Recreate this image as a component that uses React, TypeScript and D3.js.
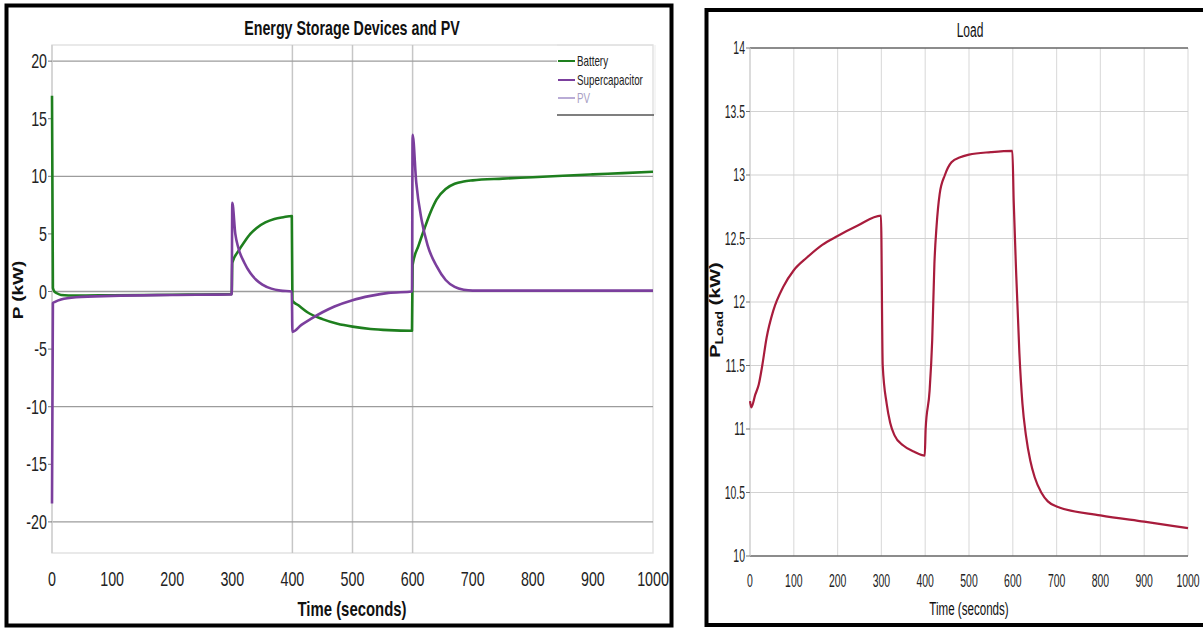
import React from "react";
import * as d3 from "d3";

// ---------- data ----------
const xTicks = [0, 100, 200, 300, 400, 500, 600, 700, 800, 900, 1000];
const leftYTicks = [20, 15, 10, 5, 0, -5, -10, -15, -20];
const leftGridY = [20, 10, 0, -10, -20];
const leftGridX = [400, 500, 600];
const rightYTicks = [14, 13.5, 13, 12.5, 12, 11.5, 11, 10.5, 10];
const rightYTickLabels = ["14", "13.5", "13", "12.5", "12", "11.5", "11", "10.5", "10"];

const seriesNames = ["Battery", "Supercapacitor", "PV"];

const batteryT = [0, 1.5, 4, 8, 15, 40, 100, 200, 299, 300, 310, 320, 330, 340, 355, 370, 385, 399, 400, 410, 425, 450, 475, 500, 530, 560, 599, 600, 610, 620, 630, 640, 655, 670, 685, 700, 750, 800, 850, 900, 950, 1000];
const batteryP = [17, 0.3, 0, -0.15, -0.3, -0.35, -0.32, -0.28, -0.22, 2.5, 3.5, 4.3, 5.0, 5.5, 6.0, 6.3, 6.45, 6.55, -0.8, -1.2, -1.8, -2.4, -2.8, -3.05, -3.25, -3.35, -3.4, 2.3, 4.0, 5.5, 6.9, 8.0, 8.9, 9.35, 9.55, 9.65, 9.8, 9.92, 10.05, 10.17, 10.28, 10.4];

const supercapT = [0, 1.5, 5, 15, 40, 100, 200, 299, 300, 305, 310, 320, 330, 340, 350, 365, 380, 399, 400, 415, 430, 450, 470, 500, 530, 560, 599, 600, 606, 615, 625, 640, 655, 670, 685, 700, 1000];
const supercapP = [-18.4, -1.0, -0.9, -0.7, -0.5, -0.38, -0.3, -0.25, 7.7, 5.0, 3.8, 2.5, 1.6, 1.0, 0.6, 0.25, 0.08, 0.0, -3.5, -2.9, -2.4, -1.8, -1.3, -0.75, -0.38, -0.12, 0, 13.6, 9.5, 6.2, 4.0, 2.2, 1.0, 0.4, 0.15, 0.08, 0.08];

const pvT: number[] = [];
const pvP: number[] = [];

const loadT = [0, 3, 12, 20, 28, 38, 53, 76, 100, 130, 165, 200, 245, 299, 303, 312, 320, 330, 350, 375, 399, 401, 410, 416, 421, 426, 433, 445, 460, 480, 500, 550, 599, 602, 608, 615, 622, 630, 640, 650, 665, 680, 700, 800, 900, 1000];
const loadP = [11.22, 11.17, 11.27, 11.35, 11.5, 11.72, 11.93, 12.12, 12.25, 12.35, 12.45, 12.52, 12.6, 12.68, 11.5, 11.2, 11.05, 10.95, 10.87, 10.82, 10.79, 11.0, 11.3, 11.7, 12.3, 12.6, 12.85, 13.0, 13.1, 13.14, 13.16, 13.18, 13.19, 12.8, 12.2, 11.6, 11.2, 10.95, 10.75, 10.62, 10.5, 10.43, 10.39, 10.32, 10.27, 10.22];

// ---------- styles ----------
const FONT = "'Liberation Sans', Arial, sans-serif";
const GREEN = "#1e7f1e";
const PURPLE = "#7b3f9d";
const PVCOL = "#b9acd6";
const LOADCOL = "#a81c3c";

type TProps = {
  x: number; y: number; sx?: number; size?: number; weight?: string | number;
  anchor?: string; fill?: string; rotate?: boolean; children?: React.ReactNode;
};
function T({ x, y, sx = 0.78, size = 18, weight = "normal", anchor = "middle", fill = "#222", rotate = false, children }: TProps) {
  const tr = rotate
    ? `translate(${x},${y}) rotate(-90) scale(1,${sx})`
    : `translate(${x},${y}) scale(${sx},1)`;
  return (
    <g transform={tr}>
      <text x={0} y={0} fontFamily={FONT} fontSize={size} fontWeight={weight} textAnchor={anchor} fill={fill}>
        {children}
      </text>
    </g>
  );
}

function zip(t: number[], v: number[]): [number, number][] {
  return t.map((d, i) => [d, v[i]]);
}

export default function App() {
  const xL = d3.scaleLinear().domain([0, 1000]).range([52, 653]);
  const yL = d3.scaleLinear().domain([-22.7, 21.4]).range([553, 45]);
  const xR = d3.scaleLinear().domain([0, 1000]).range([750, 1188]);
  const yR = d3.scaleLinear().domain([10, 14]).range([556, 48]);

  const lineL = d3.line<[number, number]>().x((d) => xL(d[0])).y((d) => yL(d[1])).curve(d3.curveMonotoneX);
  const lineR = d3.line<[number, number]>().x((d) => xR(d[0])).y((d) => yR(d[1])).curve(d3.curveMonotoneX);

  const legendY = [61, 80, 98];
  const legendCols = [GREEN, PURPLE, PVCOL];

  return (
    <svg width={1203} height={628} style={{ position: "absolute", left: 0, top: 0, background: "#fff" }}>
      <rect x={0} y={0} width={1203} height={628} fill="#fff" />

      {/* ================= LEFT PANEL ================= */}
      <rect x={xL(0)} y={yL(21.4)} width={xL(1000) - xL(0)} height={yL(-22.7) - yL(21.4)} fill="none" stroke="#e2e2e2" strokeWidth={1.5} />
      {leftGridX.map((t) => (
        <line key={"lgx" + t} x1={xL(t)} x2={xL(t)} y1={yL(21.4)} y2={yL(-22.7)} stroke="#c6c6c6" strokeWidth={1.5} />
      ))}
      {leftGridY.map((v) => (
        <line key={"lgy" + v} x1={xL(0)} x2={v === 20 ? 557 : xL(1000)} y1={yL(v)} y2={yL(v)} stroke="#9c9c9c" strokeWidth={1.3} />
      ))}
      <line x1={xL(0)} x2={xL(0)} y1={yL(21.4)} y2={yL(-22.7)} stroke="#cfcfcf" strokeWidth={1.5} />
      {leftYTicks.map((v) => (
        <g key={"lyt" + v}>
          <line x1={xL(0) - 4} x2={xL(0)} y1={yL(v)} y2={yL(v)} stroke="#777" strokeWidth={1} />
          <T x={xL(0) - 5} y={yL(v) + 7} anchor="end" size={21} sx={0.68}>{String(v)}</T>
        </g>
      ))}
      {xTicks.map((t) => (
        <T key={"lxt" + t} x={xL(t)} y={586} size={21} sx={0.68}>{String(t)}</T>
      ))}

      <path d={lineL(zip(pvT, pvP)) || ""} fill="none" stroke={PVCOL} strokeWidth={2} />
      <path d={lineL(zip(batteryT, batteryP)) || ""} fill="none" stroke={GREEN} strokeWidth={2.6} strokeLinejoin="round" />
      <path d={lineL(zip(supercapT, supercapP)) || ""} fill="none" stroke={PURPLE} strokeWidth={2.6} strokeLinejoin="round" />

      {/* legend */}
      <line x1={557} x2={653} y1={45} y2={45} stroke="#e0e0e0" strokeWidth={1} />
      <line x1={655} x2={655} y1={45} y2={115} stroke="#ececec" strokeWidth={1} />
      {seriesNames.map((n, i) => (
        <g key={"leg" + n}>
          <line x1={558} x2={575} y1={legendY[i]} y2={legendY[i]} stroke={legendCols[i]} strokeWidth={2} />
          <T x={577} y={legendY[i] + 5} anchor="start" size={14} sx={0.7} fill={i === 2 ? "#a9a0c4" : "#222"}>{n}</T>
        </g>
      ))}
      <line x1={557} x2={654} y1={115} y2={115} stroke="#555" strokeWidth={1.3} />

      <T x={352} y={35} size={21} weight="bold" sx={0.68} fill="#111">Energy Storage Devices and PV</T>
      <T x={352} y={616} size={21} weight="bold" sx={0.71} fill="#111">Time (seconds)</T>
      <T x={23} y={290} size={19} weight="bold" sx={0.78} rotate fill="#111">P (kW)</T>

      <rect x={6.5} y={5.5} width={665} height={620} fill="none" stroke="#000" strokeWidth={4} />

      {/* ================= RIGHT PANEL ================= */}
      {xTicks.map((t) => (
        <line key={"rgx" + t} x1={xR(t)} x2={xR(t)} y1={yR(14)} y2={yR(10)} stroke="#dedede" strokeWidth={1.2} />
      ))}
      {rightYTicks.map((v) => (
        <line key={"rgy" + v} x1={xR(0)} x2={xR(1000)} y1={yR(v)} y2={yR(v)}
          stroke={v === 14 || v === 10 ? "#666" : "#d2d2d2"} strokeWidth={v === 14 || v === 10 ? 1.3 : 1.2} />
      ))}
      <line x1={xR(0)} x2={xR(0)} y1={yR(14)} y2={yR(10)} stroke="#d0d0d0" strokeWidth={1.2} />
      {rightYTicks.map((v, i) => (
        <g key={"ryt" + v}>
          <line x1={xR(0) - 4} x2={xR(0)} y1={yR(v)} y2={yR(v)} stroke="#777" strokeWidth={1} />
          <T x={xR(0) - 5} y={yR(v) + 6} anchor="end" size={19} sx={0.55}>{rightYTickLabels[i]}</T>
        </g>
      ))}
      {xTicks.map((t) => (
        <T key={"rxt" + t} x={xR(t)} y={587} size={19} sx={0.55}>{String(t)}</T>
      ))}

      <path d={lineR(zip(loadT, loadP)) || ""} fill="none" stroke={LOADCOL} strokeWidth={2.2} strokeLinejoin="round" />

      <T x={970} y={37} size={20} sx={0.6} fill="#111">Load</T>
      <T x={969} y={615} size={19} sx={0.61} fill="#111">Time (seconds)</T>
      <g transform="translate(720,310) rotate(-90) scale(1,0.75)">
        <text x={0} y={0} fontFamily={FONT} textAnchor="middle" fill="#111">
          <tspan fontSize={20} fontWeight="bold">P</tspan>
          <tspan fontSize={14} fontWeight="bold" dy={4}>Load</tspan>
          <tspan fontSize={20} fontWeight="bold" dy={-4}> (kW)</tspan>
        </text>
      </g>

      <rect x={706.5} y={10} width={500} height={615} fill="none" stroke="#000" strokeWidth={4} />
    </svg>
  );
}
